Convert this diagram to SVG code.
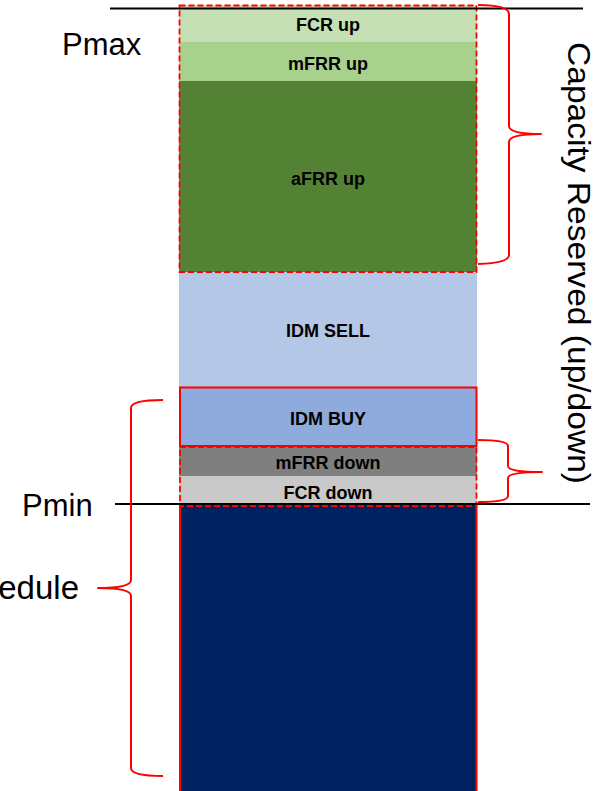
<svg xmlns="http://www.w3.org/2000/svg" width="606" height="791" viewBox="0 0 606 791">
  <style>
    .lbl { font-family: "Liberation Sans", Arial, sans-serif; font-weight: bold; font-size: 18px; fill: #000; text-anchor: middle; }
    .big { font-family: "Liberation Sans", Arial, sans-serif; font-size: 31px; fill: #000; }
    .dash { fill: none; stroke: #FF0000; stroke-width: 1.8; stroke-dasharray: 6 3; }
    .solid { fill: none; stroke: #FF0000; stroke-width: 2; }
    .brace { fill: none; stroke: #FF0000; stroke-width: 2; stroke-linejoin: round; }
    .level { stroke: #000; stroke-width: 2; }
  </style>
  <rect width="606" height="791" fill="#FFFFFF"/>

  <g id="fcr-up">
    <rect x="179" y="5" width="298" height="37" fill="#C5E0B4"/>
    <text class="lbl" x="328" y="31">FCR up</text>
  </g>
  <g id="mfrr-up">
    <rect x="179" y="42" width="298" height="39" fill="#A9D18E"/>
    <text class="lbl" x="328" y="70">mFRR up</text>
  </g>
  <g id="afrr-up">
    <rect x="179" y="81" width="298" height="191" fill="#548235"/>
    <text class="lbl" x="328" y="185">aFRR up</text>
  </g>
  <g id="idm-sell">
    <rect x="179" y="272" width="298" height="115" fill="#B4C7E7"/>
    <text class="lbl" x="328" y="337">IDM SELL</text>
  </g>
  <g id="idm-buy">
    <rect x="179" y="387" width="298" height="59" fill="#8FAADC"/>
    <text class="lbl" x="328" y="425">IDM BUY</text>
  </g>
  <g id="mfrr-down">
    <rect x="179" y="446" width="298" height="30" fill="#7F7F7F"/>
    <text class="lbl" x="328" y="469">mFRR down</text>
  </g>
  <g id="fcr-down">
    <rect x="179" y="476" width="298" height="29" fill="#C9C9C9"/>
    <text class="lbl" x="328" y="499">FCR down</text>
  </g>
  <g id="schedule">
    <rect x="179" y="505" width="298" height="290" fill="#002060"/>
    <line class="solid" x1="180" y1="505" x2="180" y2="791"/>
    <line class="solid" x1="476.5" y1="505" x2="476.5" y2="791"/>
  </g>

  <g id="borders">
    <rect class="dash" x="179.5" y="5.5" width="297" height="266.5"/>
    <rect class="solid" x="180" y="387.5" width="296.5" height="58.5"/>
    <rect class="dash" x="180" y="447" width="296.5" height="59"/>
  </g>

  <g id="levels">
    <line class="level" x1="110" y1="8.5" x2="583" y2="8.5"/>
    <line class="level" x1="115" y1="504" x2="590" y2="504"/>
  </g>

  <g id="connectors">
    <path class="brace" d="M 478 5 Q 509 5 509 14 L 509 126 Q 509 134 541 134 Q 509 134 509 142 L 509 255 Q 509 263 478 264"/>
    <path class="brace" d="M 478 440 Q 508 440 508 446 L 508 466 Q 508 472 542 472 Q 508 472 508 478 L 508 496 Q 508 502 478 502"/>
    <path class="brace" d="M 163 400 Q 131 400 131 408 L 131 580 Q 131 588 98 588 Q 131 588 131 596 L 131 768 Q 131 776 163 776"/>
  </g>

  <g id="labels">
    <text class="big" x="62" y="55">Pmax</text>
    <text class="big" x="22" y="516">Pmin</text>
    <text class="big" x="79" y="599" text-anchor="end" style="font-size:33px">Schedule</text>
    <text class="big" transform="translate(568,42) rotate(90)" x="0" y="0" textLength="442" lengthAdjust="spacingAndGlyphs">Capacity Reserved (up/down)</text>
  </g>
</svg>
